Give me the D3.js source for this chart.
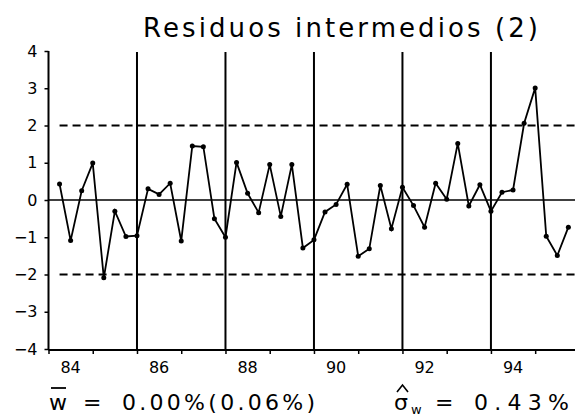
<!DOCTYPE html>
<html><head><meta charset="utf-8">
<script src="https://cdn.jsdelivr.net/npm/d3@7"></script>
<style>html,body{margin:0;padding:0;background:#fff}svg{display:block}</style>
</head><body><svg id="c" width="575" height="418"></svg>
<script>
const title = "Residuos intermedios (2)";
const startYear = 1984.25;          // first quarterly observation
const residuals = [0.43,-1.09,0.25,0.99,-2.09,-0.30,-0.98,-0.96,
  0.30,0.15,0.45,-1.10,1.45,1.43,-0.50,-1.00,
  1.01,0.18,-0.34,0.95,-0.44,0.95,-1.29,-1.07,
  -0.32,-0.12,0.42,-1.51,-1.31,0.39,-0.77,0.34,
  -0.15,-0.73,0.45,0.02,1.52,-0.16,0.41,-0.30,
  0.21,0.27,2.06,3.01,-0.97,-1.49,-0.73];
const yTicks = [-4,-3,-2,-1,0,1,2,3,4];
const yearTicks = [1984,1985,1986,1987,1988,1989,1990,1991,1992,1993,1994,1995];
const yearLabels = ["84","86","88","90","92","94"];
const labelYears = [1984,1986,1988,1990,1992,1994];
const gridYears = [1986,1988,1990,1992,1994];
const bands = [-2,2];
const meanText = "0.00%(0.06%)";
const sigmaText = "0.43%";

const svg = d3.select("#c");
const FONT = "DejaVu Sans, Verdana, sans-serif";
const x = d3.scaleLinear().domain([1984,1995.9]).range([48.5,575]);
const y = d3.scaleLinear().domain([-4,4]).range([349,51]);
const data = residuals.map((v,i)=>({t:startYear+i*0.25,v}));

// title
svg.append("text").attr("x",143).attr("y",37).attr("textLength",395)
  .attr("lengthAdjust","spacing").attr("font-family",FONT).attr("font-size",26)
  .attr("fill","#000").text(title);

// y axis
const yAxis = svg.append("g").attr("transform",`translate(${x(1984)},0)`)
  .call(d3.axisLeft(y).tickValues(yTicks).tickSize(4).tickPadding(7)
    .tickFormat(d=>d<0?"\u2212"+Math.abs(d):d));
yAxis.select(".domain").attr("stroke","#000").attr("stroke-width",2).attr("d",`M0,${y(4)}V${y(-4)+1}`);
yAxis.selectAll(".tick line").attr("stroke-width",1.5);
yAxis.selectAll("text").attr("font-family",FONT).attr("font-size",16).attr("fill","#000");

// x axis
const xAxis = svg.append("g").attr("transform",`translate(0,${y(-4)+1})`)
  .call(d3.axisBottom(x).tickValues(yearTicks).tickSize(4).tickFormat(""));
xAxis.select(".domain").attr("stroke","#000").attr("stroke-width",2).attr("d",`M${x(1984)},0H575`);
xAxis.selectAll(".tick line").attr("stroke-width",1.5);
svg.append("g").selectAll("text").data(labelYears).join("text")
  .attr("x",d=>x(d+0.5)).attr("y",373).attr("text-anchor","middle")
  .attr("font-family",FONT).attr("font-size",16)
  .text((d,i)=>yearLabels[i]);

// vertical year lines
svg.append("g").selectAll("line").data(gridYears).join("line")
  .attr("x1",d=>x(d)).attr("x2",d=>x(d)).attr("y1",y(4)+1).attr("y2",y(-4)+1)
  .attr("stroke","#000").attr("stroke-width",2);

// zero line
svg.append("line").attr("x1",x(1984)).attr("x2",575).attr("y1",y(0)).attr("y2",y(0))
  .attr("stroke","#000").attr("stroke-width",1.6);
// dashed bands
svg.append("g").selectAll("line").data(bands).join("line")
  .attr("x1",x(startYear)).attr("x2",575).attr("y1",d=>y(d)).attr("y2",d=>y(d))
  .attr("stroke","#000").attr("stroke-width",2).attr("stroke-dasharray","8,5");

// series
svg.append("path").datum(data)
  .attr("d",d3.line().x(d=>x(d.t)).y(d=>y(d.v)))
  .attr("fill","none").attr("stroke","#000").attr("stroke-width",1.8);
svg.append("g").selectAll("circle").data(data).join("circle")
  .attr("cx",d=>x(d.t)).attr("cy",d=>y(d.v)).attr("r",2.5).attr("fill","#000");

// bottom statistics
const bt = svg.append("g").attr("font-family",FONT).attr("fill","#000");
bt.append("text").attr("x",49).attr("y",410).attr("font-size",22).text("w");
bt.append("line").attr("x1",51).attr("x2",66).attr("y1",388).attr("y2",388).attr("stroke","#000").attr("stroke-width",1.8);
bt.append("text").attr("x",83).attr("y",410).attr("font-size",22).text("=");
bt.append("text").attr("x",122).attr("y",410).attr("font-size",22)
  .attr("textLength",193).attr("lengthAdjust","spacing").text(meanText);
bt.append("text").attr("x",394).attr("y",410).attr("font-size",22).text("\u03c3");
bt.append("path").attr("d","M397,392L402.5,385L408,392").attr("fill","none").attr("stroke","#000").attr("stroke-width",1.6);
bt.append("text").attr("x",411).attr("y",414).attr("font-size",13).text("w");
bt.append("text").attr("x",435).attr("y",410).attr("font-size",22).text("=");
bt.append("text").attr("x",474).attr("y",410).attr("font-size",22)
  .attr("textLength",95).attr("lengthAdjust","spacing").text(sigmaText);
</script></body></html>
